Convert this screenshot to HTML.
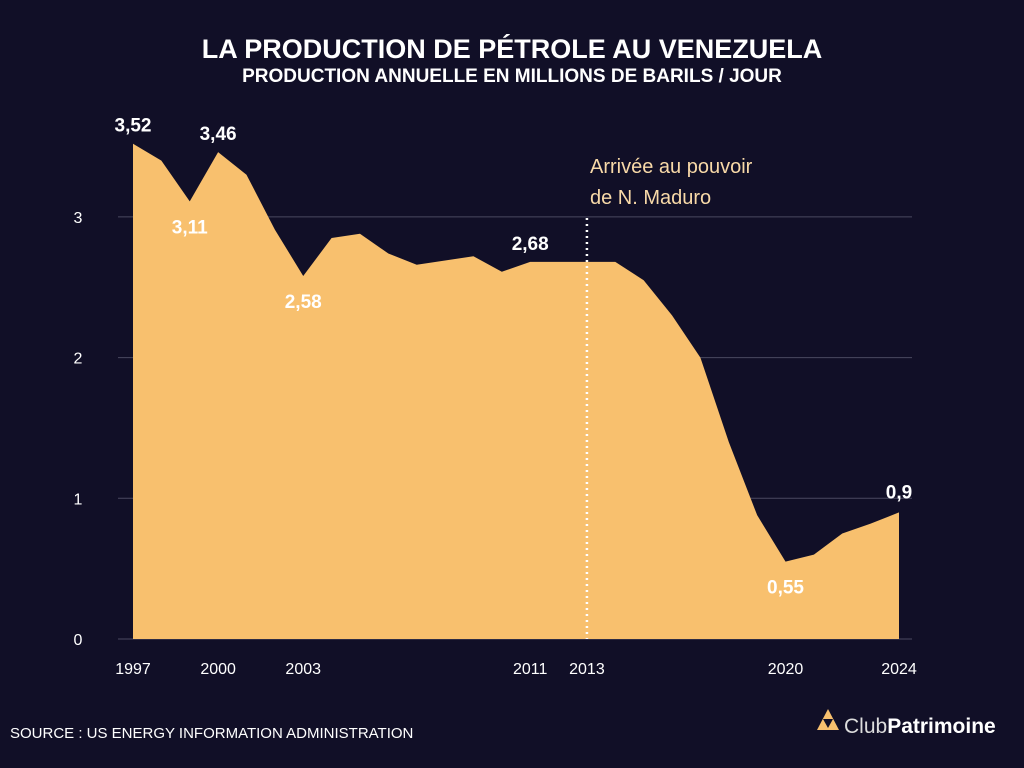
<!DOCTYPE html>
<html><head><meta charset="utf-8"><style>
body{margin:0;width:1024px;height:768px;background:#110f27;overflow:hidden;font-family:"Liberation Sans",sans-serif;}
svg{display:block}
</style></head><body>
<svg id="c" width="1024" height="768">
<text x="512" y="58" text-anchor="middle" fill="#fff" font-size="27" font-weight="bold">LA PRODUCTION DE PÉTROLE AU VENEZUELA</text>
<text x="512" y="82" text-anchor="middle" fill="#fff" font-size="19" font-weight="bold">PRODUCTION ANNUELLE EN MILLIONS DE BARILS / JOUR</text>
<g id="grid"></g><g id="area"></g><g id="labels"></g>
<text x="10" y="738" fill="#fff" font-size="15">SOURCE : US ENERGY INFORMATION ADMINISTRATION</text>
<g>
<polygon points="828,709 817,730 839,730" fill="#f8c06e"/>
<polygon points="823,719 833,719 828,728" fill="#110f27"/>
<text x="844" y="733" fill="#fff" font-size="21"><tspan fill="#ddd">Club</tspan><tspan font-weight="bold">Patrimoine</tspan></text>
</g>
</svg>
<script>
const years=[1997,1998,1999,2000,2001,2002,2003,2004,2005,2006,2007,2008,2009,2010,2011,2012,2013,2014,2015,2016,2017,2018,2019,2020,2021,2022,2023,2024];
const values=[3.52,3.40,3.11,3.46,3.30,2.91,2.58,2.85,2.88,2.74,2.66,2.69,2.72,2.61,2.68,2.68,2.68,2.68,2.55,2.30,2.00,1.40,0.88,0.55,0.60,0.75,0.82,0.90];
const yTicks=[0,1,2,3];
const xTickLabels=[1997,2000,2003,2011,2013,2020,2024];
const pointLabels=[[1997,"3,52",-12],[1999,"3,11",32],[2000,"3,46",-12],[2003,"2,58",32],[2011,"2,68",-12],[2020,"0,55",32],[2024,"0,9",-14]];
const NS="http://www.w3.org/2000/svg";
const x=v=>133+(v-1997)*(899-133)/27;
const y=v=>639-v*140.7;
function mk(t,a,p){const e=document.createElementNS(NS,t);for(const k in a)e.setAttribute(k,a[k]);p.appendChild(e);return e;}
const grid=document.getElementById('grid'),area=document.getElementById('area'),lab=document.getElementById('labels');
yTicks.forEach(t=>{
 const l=mk('line',{x1:118,x2:912,y1:y(t),y2:y(t),stroke:'#4a4960','stroke-width':1},grid);
 
 
 const tx=mk('text',{x:78,y:y(t)+6,'text-anchor':'middle',fill:'#fff','font-size':16},grid);tx.textContent=t;
 
 
});
let d='M'+x(years[0])+','+y(0);
years.forEach((yr,i)=>{d+=' L'+x(yr)+','+y(values[i]);});
d+=' L'+x(years[years.length-1])+','+y(0)+' Z';
const p=mk('path',{d:d,fill:'#f8c06e'},area);


const v=mk('line',{x1:x(2013),x2:x(2013),y1:218,y2:639,stroke:'#fff','stroke-width':2.5,'stroke-dasharray':'2,4'},area);


const a1=mk('text',{x:590,y:173,fill:'#f8d9a8','font-size':20},lab);a1.textContent='Arrivée au pouvoir';


const a2=mk('text',{x:590,y:204,fill:'#f8d9a8','font-size':20},lab);a2.textContent='de N. Maduro';


xTickLabels.forEach(t=>{
 const tx=mk('text',{x:x(t),y:674,'text-anchor':'middle',fill:'#fff','font-size':16},lab);tx.textContent=t;
 
 
});
pointLabels.forEach(([yr,s,off])=>{
 const i=years.indexOf(yr);
 const tx=mk('text',{x:x(yr),y:y(values[i])+off,'text-anchor':'middle',fill:'#fff','font-size':19,'font-weight':'bold'},lab);tx.textContent=s;
 
 
});
</script>
</body></html>
